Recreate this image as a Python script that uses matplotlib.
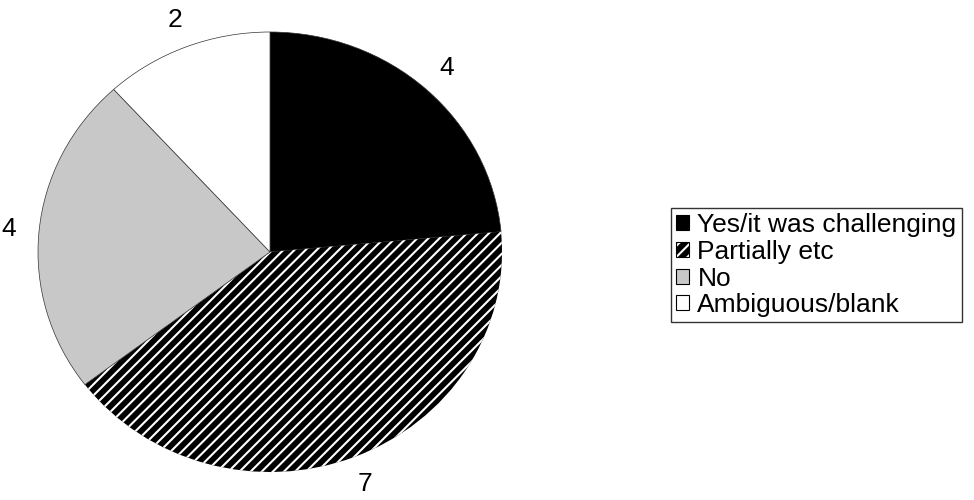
import matplotlib.pyplot as plt
from matplotlib.patches import Patch
from matplotlib.legend_handler import HandlerTuple

categories = ['Yes/it was challenging', 'Partially etc', 'No', 'Ambiguous/blank']
counts = [4, 7, 4, 2]
colors = ['#000000', '#000000', '#c8c8c8', '#ffffff']
hatches = [None, '///', None, None]

plt.rcParams['font.family'] = ['Liberation Sans', 'DejaVu Sans']
plt.rcParams['hatch.linewidth'] = 1.5

fig = plt.figure(figsize=(9.74, 5.0), dpi=100)
# pie is slightly squashed in the original, so aspect is left free
ax = fig.add_axes([38 / 974, 28 / 500, 464 / 974, 440 / 500])

wedges, texts = ax.pie(counts, labels=[str(c) for c in counts], colors=colors,
                       startangle=90, counterclock=False, labeldistance=1.13,
                       wedgeprops=dict(edgecolor='#333333', linewidth=0.5),
                       textprops=dict(fontsize=19))
for w, h in zip(wedges, hatches):
    if h:
        # white stripes on black
        w.set_hatch(h)
        w.set_edgecolor('white')
        w.set_linewidth(0)
for t in texts:
    t.set_horizontalalignment('center')
ax.set_aspect('auto')
ax.set_xlim(-1, 1)
ax.set_ylim(-1, 1)
ax.axis('off')

handles = []
for c, h in zip(colors, hatches):
    if h:
        handles.append((Patch(facecolor=c, edgecolor='white', hatch=h, linewidth=0),
                        Patch(facecolor='none', edgecolor='black', linewidth=0.8)))
    else:
        handles.append(Patch(facecolor=c, edgecolor='black', linewidth=0.8))
leg = fig.legend(handles, categories, loc='upper left',
                 bbox_to_anchor=(671 / 974, 1 - 208 / 500), fontsize=19,
                 handler_map={tuple: HandlerTuple(ndivide=1, pad=0)},
                 frameon=True, fancybox=False, handlelength=0.5, handleheight=0.5,
                 handletextpad=0.3, labelspacing=0.1, borderpad=0.2, borderaxespad=0)
leg.get_frame().set_edgecolor('black')
leg.get_frame().set_linewidth(1.0)

fig.savefig('out.png', dpi=100)
